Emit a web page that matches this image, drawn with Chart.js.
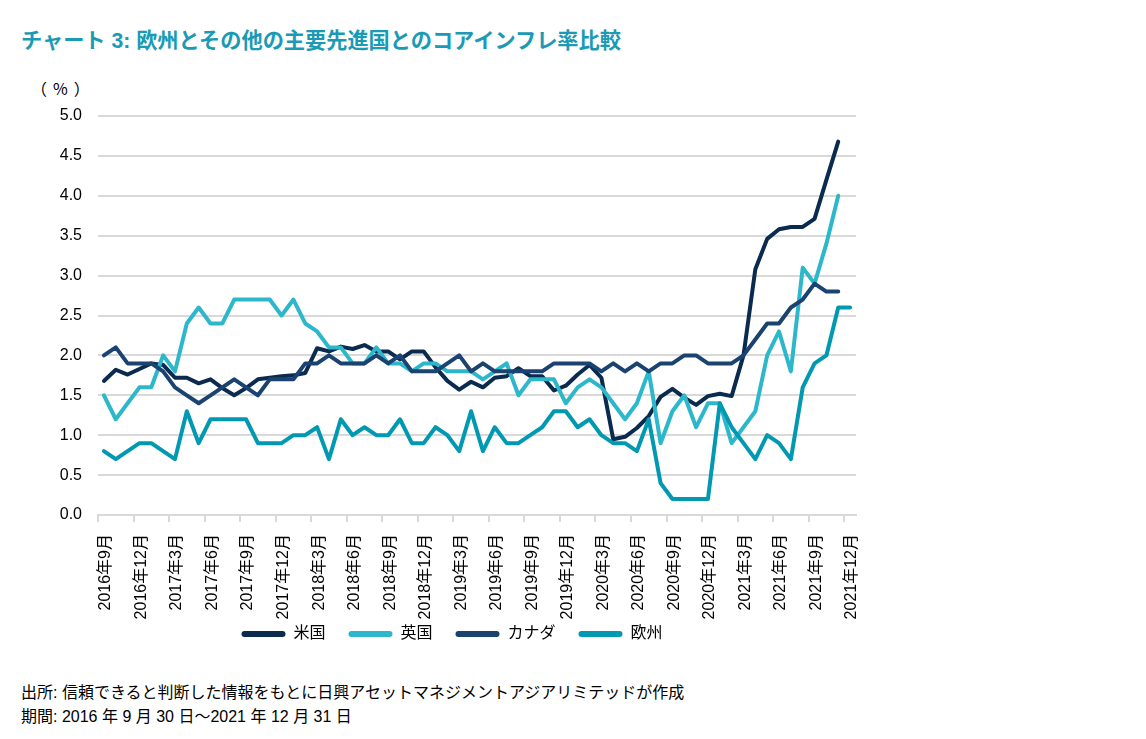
<!DOCTYPE html>
<html><head><meta charset="utf-8">
<script src="https://cdn.jsdelivr.net/npm/chart.js@4.4.1/dist/chart.umd.min.js"></script>
<style>
html,body{margin:0;padding:0;background:#fff;}
#wrap{position:relative;width:1146px;height:739px;overflow:hidden;font-family:"Liberation Sans","Noto Sans CJK JP",sans-serif;}
#title{position:absolute;left:21px;top:28px;font-size:21.2px;font-weight:bold;color:#1a9ab4;white-space:nowrap;line-height:26px;}
#unit{position:absolute;left:31px;top:77px;font-size:16px;color:#000;line-height:22px;font-family:"Noto Sans CJK JP",sans-serif;letter-spacing:6px;}
#c{position:absolute;left:0;top:0;}
.foot{position:absolute;left:21px;font-size:16px;color:#000;white-space:nowrap;line-height:20px;}
</style></head>
<body><div id="wrap">
<div id="title">チャート 3: 欧州とその他の主要先進国とのコアインフレ率比較</div>
<div id="unit">（%）</div>
<canvas id="c" width="904" height="652"></canvas>
<div class="foot" style="top:683px">出所: 信頼できると判断した情報をもとに日興アセットマネジメントアジアリミテッドが作成</div>
<div class="foot" style="top:707px">期間: 2016 年 9 月 30 日～2021 年 12 月 31 日</div>
</div>
<script>
const months = [
 '2016年9月','2016年10月','2016年11月','2016年12月',
 '2017年1月','2017年2月','2017年3月','2017年4月','2017年5月','2017年6月','2017年7月','2017年8月','2017年9月','2017年10月','2017年11月','2017年12月',
 '2018年1月','2018年2月','2018年3月','2018年4月','2018年5月','2018年6月','2018年7月','2018年8月','2018年9月','2018年10月','2018年11月','2018年12月',
 '2019年1月','2019年2月','2019年3月','2019年4月','2019年5月','2019年6月','2019年7月','2019年8月','2019年9月','2019年10月','2019年11月','2019年12月',
 '2020年1月','2020年2月','2020年3月','2020年4月','2020年5月','2020年6月','2020年7月','2020年8月','2020年9月','2020年10月','2020年11月','2020年12月',
 '2021年1月','2021年2月','2021年3月','2021年4月','2021年5月','2021年6月','2021年7月','2021年8月','2021年9月','2021年10月','2021年11月','2021年12月'
];
const seriesNames = ['米国','英国','カナダ','欧州'];
const usCore = [1.68,1.82,1.76,1.83,1.90,1.88,1.72,1.72,1.65,1.70,1.59,1.50,1.59,1.70,1.72,1.74,
 1.75,1.78,2.09,2.05,2.11,2.08,2.13,2.05,2.05,1.95,2.05,2.05,
 1.85,1.68,1.57,1.67,1.60,1.72,1.74,1.84,1.74,1.74,1.56,1.62,
 1.76,1.88,1.72,0.95,0.98,1.09,1.24,1.48,1.58,1.47,1.38,1.49,
 1.52,1.49,2.00,3.08,3.46,3.58,3.61,3.61,3.71,4.20,4.68,null];
const ukCore = [1.5,1.2,1.4,1.6,1.6,2.0,1.8,2.4,2.6,2.4,2.4,2.7,2.7,2.7,2.7,2.5,
 2.7,2.4,2.3,2.1,2.1,1.9,1.9,2.1,1.9,1.9,1.8,1.9,
 1.9,1.8,1.8,1.8,1.7,1.8,1.9,1.5,1.7,1.7,1.7,1.4,
 1.6,1.7,1.6,1.4,1.2,1.4,1.8,0.9,1.3,1.5,1.1,1.4,
 1.4,0.9,1.1,1.3,2.0,2.3,1.8,3.1,2.9,3.4,4.0,null];
const caCore = [2.0,2.1,1.9,1.9,1.9,1.8,1.6,1.5,1.4,1.5,1.6,1.7,1.6,1.5,1.7,1.7,
 1.7,1.9,1.9,2.0,1.9,1.9,1.9,2.0,1.9,2.0,1.8,1.8,
 1.8,1.9,2.0,1.8,1.9,1.8,1.8,1.8,1.8,1.8,1.9,1.9,
 1.9,1.9,1.8,1.9,1.8,1.9,1.8,1.9,1.9,2.0,2.0,1.9,
 1.9,1.9,2.0,2.2,2.4,2.4,2.6,2.7,2.9,2.8,2.8,null];
const euCore = [0.8,0.7,0.8,0.9,0.9,0.8,0.7,1.3,0.9,1.2,1.2,1.2,1.2,0.9,0.9,0.9,
 1.0,1.0,1.1,0.7,1.2,1.0,1.1,1.0,1.0,1.2,0.9,0.9,
 1.1,1.0,0.8,1.3,0.8,1.1,0.9,0.9,1.0,1.1,1.3,1.3,
 1.1,1.2,1.0,0.9,0.9,0.8,1.2,0.4,0.2,0.2,0.2,0.2,
 1.4,1.1,0.9,0.7,1.0,0.9,0.7,1.6,1.9,2.0,2.6,2.6];
const colors = ['#0a2b4f','#2cb7ca','#1a4371','#0198b1'];
const yMin = 0, yMax = 5, yStep = 0.5;

const GRID = '#d9d9d9';
const FONT = '"Liberation Sans","Noto Sans CJK JP",sans-serif';
Chart.defaults.font.family = FONT;
Chart.defaults.font.size = 16;
Chart.defaults.color = '#000';

const values = [usCore, ukCore, caCore, euCore];
const datasets = values.map((v,i)=>({
  label: seriesNames[i], data: v, borderColor: colors[i], backgroundColor: colors[i],
  order: 4 - i
}));

// let rotated x labels extend below the (shortened) axis box without clipping
const noClipLabels = {
  id: 'noClipLabels',
  afterLayout(chart) { chart.scales.x._computeLabelArea = function () { return undefined; }; }
};

new Chart(document.getElementById('c'), {
  type: 'line',
  data: { labels: months, datasets },
  plugins: [noClipLabels],
  options: {
    responsive: false, animation: false, devicePixelRatio: 1,
    layout: { padding: { left: 0, right: 0, top: 116, bottom: 0 } },
    elements: {
      line: { borderWidth: 4, tension: 0, borderJoinStyle: 'round', borderCapStyle: 'round', fill: false },
      point: { radius: 0, hoverRadius: 0 }
    },
    plugins: {
      tooltip: { enabled: false },
      legend: {
        position: 'bottom', align: 'center',
        labels: {
          font: { size: 16 }, color: '#000', boxWidth: 44, boxHeight: 6, padding: 23,
          useBorderRadius: true, borderRadius: 3,
          generateLabels: (chart) => chart.data.datasets.map((d, i) => ({
            text: d.label, fillStyle: d.borderColor, strokeStyle: d.borderColor,
            lineWidth: 0, hidden: false, datasetIndex: i, borderRadius: 3, fontColor: '#000'
          }))
        }
      }
    },
    scales: {
      x: {
        type: 'category', offset: true,
        grid: {
          offset: true, drawOnChartArea: false, drawTicks: true, tickLength: 7, lineWidth: 2,
          color: (c) => (c.index !== undefined && c.index % 3 === 0) ? GRID : 'rgba(0,0,0,0)',
          tickColor: (c) => (c.index !== undefined && c.index % 3 === 0) ? GRID : 'rgba(0,0,0,0)'
        },
        border: { display: true, color: GRID, width: 2 },
        ticks: {
          autoSkip: false, maxRotation: 90, minRotation: 90, padding: 12, color: '#000',
          font: { size: 16 }, labelOffset: 2,
          callback: function (v, i) { return i % 3 === 0 ? this.getLabelForValue(v) : ''; }
        },
        afterFit: (s) => { s.height = 88; }
      },
      y: {
        position: 'left', min: yMin, max: yMax,
        ticks: { stepSize: yStep, padding: 16, color: '#000', font: { size: 16 }, callback: (v) => Number(v).toFixed(1) },
        grid: { color: GRID, lineWidth: 2, drawTicks: false },
        border: { display: false },
        afterFit: (s) => { s.width = 98; }
      },
      yR: {
        position: 'right', display: true,
        grid: { display: false, drawTicks: false }, border: { display: false },
        ticks: { display: false },
        afterFit: (s) => { s.width = 48; }
      }
    }
  }
});
</script>
</body></html>
